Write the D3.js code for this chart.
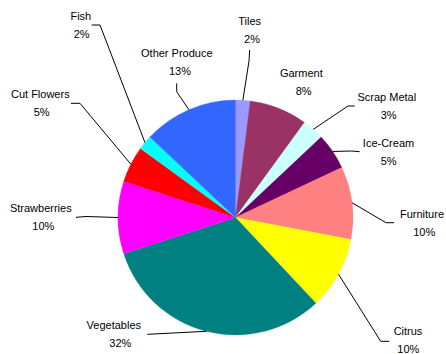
<!DOCTYPE html>
<html>
<head>
<meta charset="utf-8">
<script src="https://cdn.jsdelivr.net/npm/d3@7"></script>
<style>
  html, body { margin: 0; padding: 0; background: #fff; }
  svg { display: block; }
  text { font-family: "Liberation Sans", Arial, sans-serif; font-size: 11px; fill: #000; }
</style>
</head>
<body>
<svg id="chart" width="446" height="354"></svg>
<script>
// Sector shares, clockwise from twelve o'clock
const categories = ["Tiles", "Garment", "Scrap Metal", "Ice-Cream", "Furniture", "Citrus",
                    "Vegetables", "Strawberries", "Cut Flowers", "Fish", "Other Produce"];
const shares = [2, 8, 3, 5, 10, 10, 32, 10, 5, 2, 13];
const colors = ["#9999ff", "#993366", "#ccffff", "#660066", "#ff8080", "#ffff00",
                "#008080", "#ff00ff", "#ff0000", "#00ffff", "#3366ff"];

// Label placement: [name centre x, percent centre x, name centre y],
// plus the leader path leading from the label towards the slice.
const labelLayout = {
  "Tiles":         { pos: [249.7, 252, 21],   leader: [[249.7, 50], [249, 61]] },
  "Garment":       { pos: [301.3, 303.7, 73.3], leader: null },
  "Scrap Metal":   { pos: [386.8, 388.7, 96.7], leader: [[354.7, 106], [348, 106]] },
  "Ice-Cream":     { pos: [388.5, 388.7, 142.7], leader: [[359.7, 151.7], [351.3, 151]] },
  "Furniture":     { pos: [422, 424.2, 214],  leader: [[394, 222.7], [386, 222.7]] },
  "Citrus":        { pos: [408, 408.3, 331], leader: [[389.3, 341.3], [380.7, 341.3]] },
  "Vegetables":    { pos: [113.8, 120.3, 325], leader: [[147.3, 334.3]] },
  "Strawberries":  { pos: [40.8, 43.3, 208.3], leader: [[76, 217.3], [86, 216.5]] },
  "Cut Flowers":   { pos: [40.3, 41.7, 94.3], leader: [[71, 103.3], [80, 103.3]] },
  "Fish":          { pos: [80.8, 81.7, 16],   leader: [[91.7, 25], [100, 25]] },
  "Other Produce": { pos: [176.8, 180, 53.3], leader: [[176.7, 83.3], [176.7, 91.7]] }
};

const cx = 235.5, cy = 217.5, radius = 117.5;
const lineGap = 18;

const data = categories.map((c, i) => ({ name: c, value: shares[i], color: colors[i] }));

const svg = d3.select("#chart");
const g = svg.append("g").attr("transform", `translate(${cx},${cy})`);

const pie = d3.pie().sort(null).value(d => d.value);
const arc = d3.arc().innerRadius(0).outerRadius(radius);
const arcs = pie(data);

g.selectAll("path.slice")
  .data(arcs)
  .join("path")
  .attr("class", "slice")
  .attr("d", arc)
  .attr("fill", d => d.data.color)
  .attr("stroke", d => d.data.color)
  .attr("stroke-width", 0.3);

// Leader lines: from the label elbow to the slice edge at its mid-angle
const line = d3.line();
arcs.forEach(a => {
  const lay = labelLayout[a.data.name];
  if (!lay.leader) return;
  const mid = (a.startAngle + a.endAngle) / 2;
  const edge = [cx + radius * Math.sin(mid), cy - radius * Math.cos(mid)];
  svg.append("path")
    .attr("d", line([...lay.leader, edge]))
    .attr("fill", "none")
    .attr("stroke", "#000")
    .attr("stroke-width", 1);
});

// Two-line labels: name, then percentage
arcs.forEach(a => {
  const [nx, px, ny] = labelLayout[a.data.name].pos;
  svg.append("text")
    .attr("x", nx).attr("y", ny)
    .attr("text-anchor", "middle")
    .attr("dominant-baseline", "central")
    .text(a.data.name);
  svg.append("text")
    .attr("x", px).attr("y", ny + lineGap)
    .attr("text-anchor", "middle")
    .attr("dominant-baseline", "central")
    .text(d3.format(".0f")(a.data.value) + "%");
});
</script>
</body>
</html>
